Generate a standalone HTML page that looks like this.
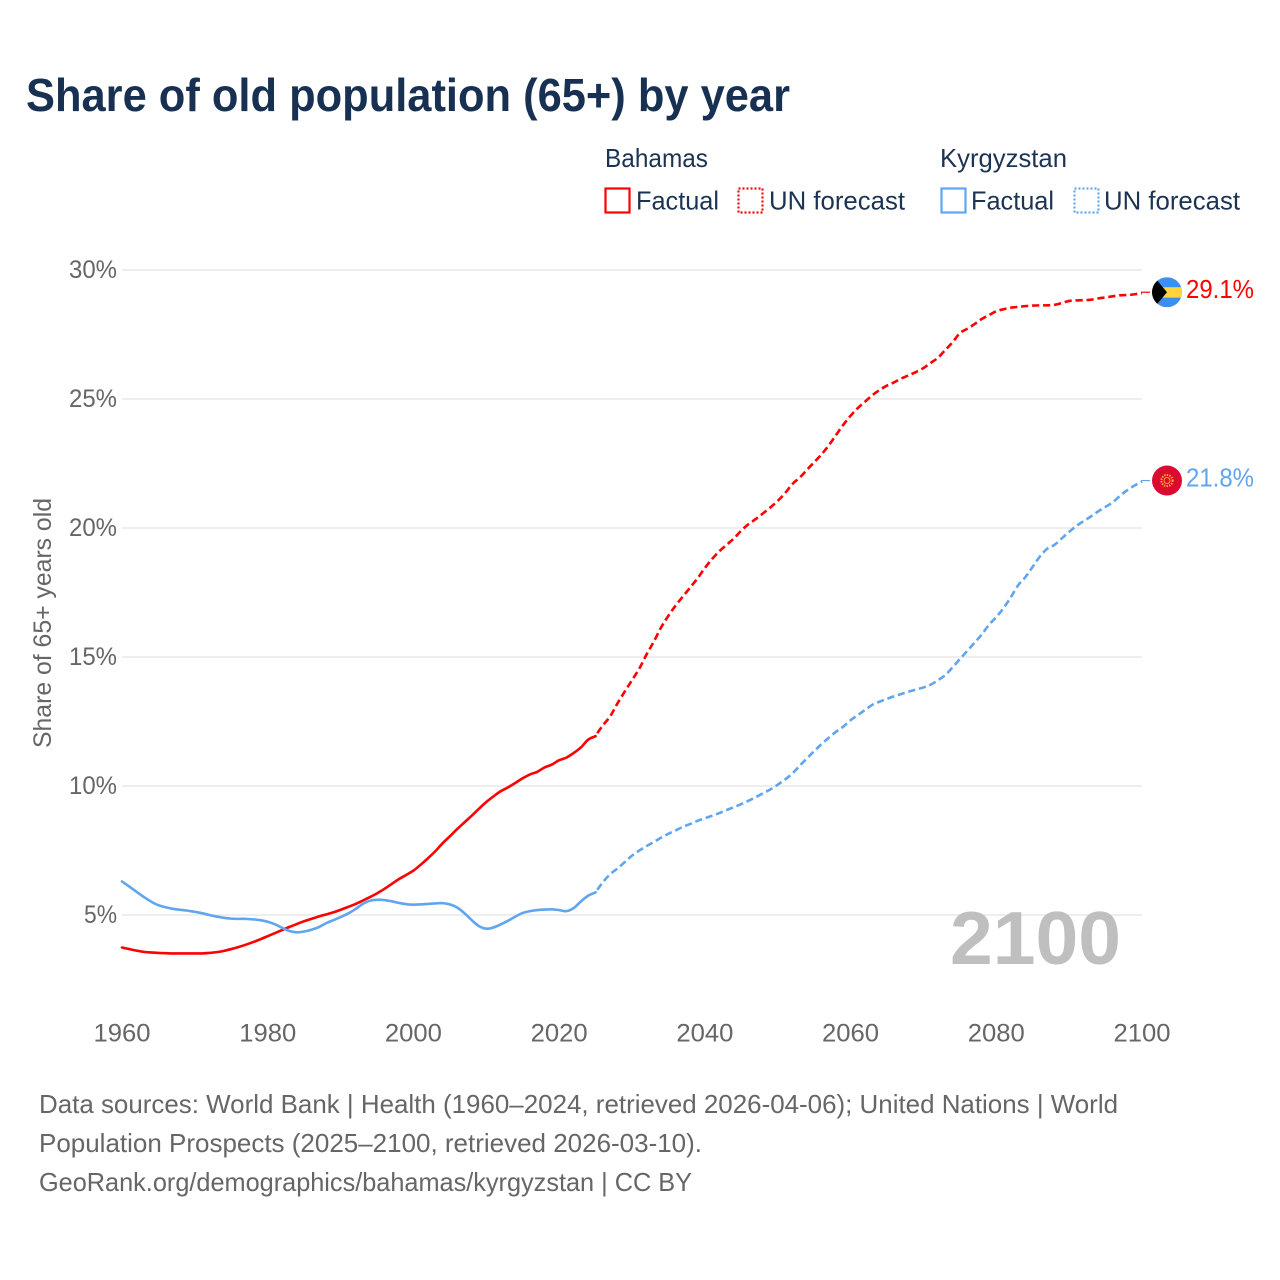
<!DOCTYPE html>
<html lang="en">
<head>
<meta charset="utf-8">
<title>Share of old population (65+) by year</title>
<style>
html,body{margin:0;padding:0;background:#fff;}
svg{display:block;}
text{font-family:"Liberation Sans",sans-serif;}
</style>
</head>
<body>
<svg id="chart" width="1280" height="1280" viewBox="0 0 1280 1280" xmlns="http://www.w3.org/2000/svg">
  <rect width="1280" height="1280" fill="#ffffff"/>
  <text x="26" y="111" font-size="46" font-weight="700" fill="#183152" textLength="764" lengthAdjust="spacingAndGlyphs">Share of old population (65+) by year</text>

  <g font-size="26" fill="#1c3453">
    <text x="605" y="167" textLength="103" lengthAdjust="spacingAndGlyphs">Bahamas</text>
    <rect x="605.5" y="188.5" width="24" height="24" fill="none" stroke="#ff0000" stroke-width="2.2"/>
    <text x="636" y="209.5" textLength="83" lengthAdjust="spacingAndGlyphs">Factual</text>
    <rect x="738.5" y="188.5" width="24" height="24" fill="none" stroke="#ff0000" stroke-width="2.2" stroke-dasharray="2 2"/>
    <text x="769" y="209.5" textLength="136" lengthAdjust="spacingAndGlyphs">UN forecast</text>
    <text x="940" y="167" textLength="127" lengthAdjust="spacingAndGlyphs">Kyrgyzstan</text>
    <rect x="941.5" y="188.5" width="24" height="24" fill="none" stroke="#60a5ee" stroke-width="2.2"/>
    <text x="971" y="209.5" textLength="83" lengthAdjust="spacingAndGlyphs">Factual</text>
    <rect x="1074.5" y="188.5" width="24" height="24" fill="none" stroke="#60a5ee" stroke-width="2.2" stroke-dasharray="2 2"/>
    <text x="1104" y="209.5" textLength="136" lengthAdjust="spacingAndGlyphs">UN forecast</text>
  </g>

  <g id="grid"></g>
  <g id="y-ticks"></g>
  <g id="x-ticks"></g>
  <text transform="translate(51,748) rotate(-90)" font-size="25" fill="#666666" textLength="250" lengthAdjust="spacingAndGlyphs">Share of 65+ years old</text>

  <text x="1121" y="964" text-anchor="end" font-size="75" font-weight="700" fill="#bfbfbf" textLength="171" lengthAdjust="spacingAndGlyphs">2100</text>

  <g id="series"></g>
  <g id="end-markers"></g>

  <g font-size="26" fill="#666666">
    <text x="39" y="1113" textLength="1079" lengthAdjust="spacingAndGlyphs">Data sources: World Bank | Health (1960–2024, retrieved 2026-04-06); United Nations | World</text>
    <text x="39" y="1152" textLength="663" lengthAdjust="spacingAndGlyphs">Population Prospects (2025–2100, retrieved 2026-03-10).</text>
    <text x="39" y="1191" textLength="653" lengthAdjust="spacingAndGlyphs">GeoRank.org/demographics/bahamas/kyrgyzstan | CC BY</text>
  </g>
</svg>
<script>
const yTickValues = [5, 10, 15, 20, 25, 30];
const yTickLabels = ["5%", "10%", "15%", "20%", "25%", "30%"];
const xTickYears = [1960, 1980, 2000, 2020, 2040, 2060, 2080, 2100];
const factualStartYear = 1960;
const forecastStartYear = 2025;
const bahamasFactual = [
  3.74,3.68,3.62,3.57,3.55,3.53,3.52,3.51,3.51,3.51,
  3.51,3.51,3.53,3.56,3.61,3.68,3.76,3.85,3.95,4.06,
  4.18,4.30,4.42,4.54,4.65,4.76,4.85,4.94,5.02,5.10,
  5.20,5.31,5.42,5.55,5.69,5.84,6.01,6.20,6.39,6.55,
  6.72,6.95,7.20,7.47,7.78,8.05,8.33,8.59,8.85,9.12,
  9.38,9.60,9.80,9.95,10.12,10.30,10.45,10.55,10.72,10.83,
  11.00,11.10,11.28,11.50,11.80,11.93
];
const bahamasForecast = [
  11.95,12.35,12.7,13.2,13.66,14.1,14.55,15.1,15.6,16.15,
  16.6,17.0,17.35,17.7,18.05,18.45,18.8,19.1,19.35,19.6,
  19.9,20.15,20.35,20.57,20.8,21.05,21.35,21.7,21.95,22.25,
  22.55,22.85,23.2,23.6,24.0,24.35,24.65,24.9,25.15,25.35,
  25.52,25.65,25.8,25.92,26.05,26.2,26.4,26.6,26.9,27.2,
  27.55,27.72,27.9,28.1,28.25,28.4,28.48,28.54,28.57,28.6,
  28.62,28.63,28.63,28.65,28.72,28.8,28.82,28.83,28.85,28.9,
  28.94,28.98,29.02,29.03,29.06,29.1
];
const kyrgyzstanFactual = [
  6.30,6.10,5.90,5.70,5.52,5.38,5.30,5.24,5.20,5.17,
  5.12,5.07,5.00,4.94,4.89,4.86,4.85,4.85,4.83,4.80,
  4.74,4.64,4.50,4.38,4.33,4.36,4.43,4.53,4.68,4.80,
  4.92,5.05,5.22,5.42,5.55,5.59,5.58,5.53,5.47,5.42,
  5.40,5.41,5.43,5.45,5.46,5.41,5.29,5.07,4.80,4.57,
  4.47,4.52,4.64,4.78,4.94,5.08,5.15,5.19,5.21,5.22,
  5.19,5.15,5.27,5.53,5.75,5.88
];
const kyrgyzstanForecast = [
  5.88,6.27,6.58,6.8,7.05,7.3,7.5,7.67,7.83,8.0,
  8.15,8.28,8.42,8.53,8.65,8.75,8.85,8.95,9.07,9.18,
  9.3,9.43,9.57,9.72,9.87,10.05,10.25,10.48,10.78,11.07,
  11.35,11.62,11.87,12.1,12.3,12.55,12.75,12.95,13.15,13.27,
  13.38,13.48,13.57,13.66,13.74,13.82,13.93,14.1,14.3,14.6,
  14.92,15.23,15.55,15.87,16.25,16.55,16.9,17.32,17.78,18.1,
  18.5,18.9,19.2,19.35,19.6,19.85,20.08,20.27,20.45,20.65,
  20.82,21.0,21.25,21.47,21.65,21.8
];

const NS = "http://www.w3.org/2000/svg";
const RED = "#ff0000";
const BLUE = "#60a5ee";

function xScale(year) { return 122 + (year - 1960) * (1142 - 122) / (2100 - 1960); }
function yScale(value) { return 915 - (value - 5) * (915 - 270) / (30 - 5); }

function make(tag, attrs, parent, content) {
  const el = document.createElementNS(NS, tag);
  for (const k in attrs) el.setAttribute(k, attrs[k]);
  if (content !== undefined) el.textContent = content;
  parent.appendChild(el);
  return el;
}

function linePath(values, startYear) {
  const pts = values.map(function (v, i) { return [xScale(startYear + i), yScale(v)]; });
  let d = "M" + pts[0][0].toFixed(2) + " " + pts[0][1].toFixed(2);
  for (let i = 0; i < pts.length - 1; i++) {
    const p0 = pts[Math.max(i - 1, 0)], p1 = pts[i], p2 = pts[i + 1], p3 = pts[Math.min(i + 2, pts.length - 1)];
    const c1x = p1[0] + (p2[0] - p0[0]) / 6, c1y = p1[1] + (p2[1] - p0[1]) / 6;
    const c2x = p2[0] - (p3[0] - p1[0]) / 6, c2y = p2[1] - (p3[1] - p1[1]) / 6;
    d += " C" + c1x.toFixed(2) + " " + c1y.toFixed(2) + " " + c2x.toFixed(2) + " " + c2y.toFixed(2) + " " + p2[0].toFixed(2) + " " + p2[1].toFixed(2);
  }
  return d;
}

const gridGroup = document.getElementById("grid");
const yTickGroup = document.getElementById("y-ticks");
yTickValues.forEach(function (v, i) {
  const line = make("line", { x1: xScale(1960), x2: xScale(2100), y1: yScale(v), y2: yScale(v), stroke: "#ececec", "stroke-width": 1.7 }, gridGroup);
  
  
  const label = yTickLabels[i];
  const lab = make("text", { x: 117, y: yScale(v) + 8, "text-anchor": "end", "font-size": 25, fill: "#666666", textLength: label.length === 2 ? 33 : 48, lengthAdjust: "spacingAndGlyphs" }, yTickGroup, label);
  
  
});

const xTickGroup = document.getElementById("x-ticks");
xTickYears.forEach(function (year) {
  const lab = make("text", { x: xScale(year), y: 1041.5, "text-anchor": "middle", "font-size": 25, fill: "#666666", textLength: 57, lengthAdjust: "spacingAndGlyphs" }, xTickGroup, String(year));
  
  
});

const seriesGroup = document.getElementById("series");
function drawSeries(factual, forecast, color) {
  const a = make("path", { d: linePath(factual, factualStartYear), fill: "none", stroke: color, "stroke-width": 2.6, "stroke-linejoin": "round", "stroke-linecap": "round" }, seriesGroup);
  
  
  const b = make("path", { d: linePath(forecast, forecastStartYear), fill: "none", stroke: color, "stroke-width": 2.6, "stroke-dasharray": "7.2 3.8", "stroke-dashoffset": "-3", "stroke-linejoin": "round" }, seriesGroup);
  
  
}
drawSeries(bahamasFactual, bahamasForecast, RED);
drawSeries(kyrgyzstanFactual, kyrgyzstanForecast, BLUE);

const markerGroup = document.getElementById("end-markers");
function drawEnd(value, color) {
  const y = yScale(value) - 1;
  const c = make("line", { x1: xScale(2100) - 1, x2: 1150, y1: y, y2: y, stroke: color, "stroke-width": 1.2 }, markerGroup);
  
  
  const t = make("text", { x: 1186, y: y + 6, "font-size": 26, fill: color, textLength: 68, lengthAdjust: "spacingAndGlyphs" }, markerGroup, value.toFixed(1) + "%");
  
  
  return y;
}

const bahamasY = drawEnd(bahamasForecast[bahamasForecast.length - 1], RED);
const kyrgyzY = drawEnd(kyrgyzstanForecast[kyrgyzstanForecast.length - 1], BLUE);

const defs = make("defs", {}, markerGroup);
const clip = make("clipPath", { id: "bs-clip" }, defs);
make("circle", { cx: 1167, cy: bahamasY, r: 15 }, clip);

const bsFlag = make("g", { "clip-path": "url(#bs-clip)" }, markerGroup);


make("rect", { x: 1152, y: bahamasY - 15, width: 30, height: 30, fill: "#3a8fef" }, bsFlag);
make("rect", { x: 1152, y: bahamasY - 5, width: 30, height: 10.4, fill: "#ffd43e" }, bsFlag);
make("polygon", { points: "1167," + bahamasY + " 1147," + (bahamasY - 24) + " 1147," + (bahamasY + 24), fill: "#000000" }, bsFlag);

const kgFlag = make("g", {}, markerGroup);


make("circle", { cx: 1167, cy: kyrgyzY, r: 15, fill: "#dc0a2e" }, kgFlag);
make("circle", { cx: 1167, cy: kyrgyzY, r: 5.6, fill: "none", stroke: "#f5b72f", "stroke-width": 2, "stroke-dasharray": "1.4 1.2" }, kgFlag);
make("circle", { cx: 1167, cy: kyrgyzY, r: 3, fill: "none", stroke: "#f5b72f", "stroke-width": 0.9 }, kgFlag);
</script>
</body>
</html>
